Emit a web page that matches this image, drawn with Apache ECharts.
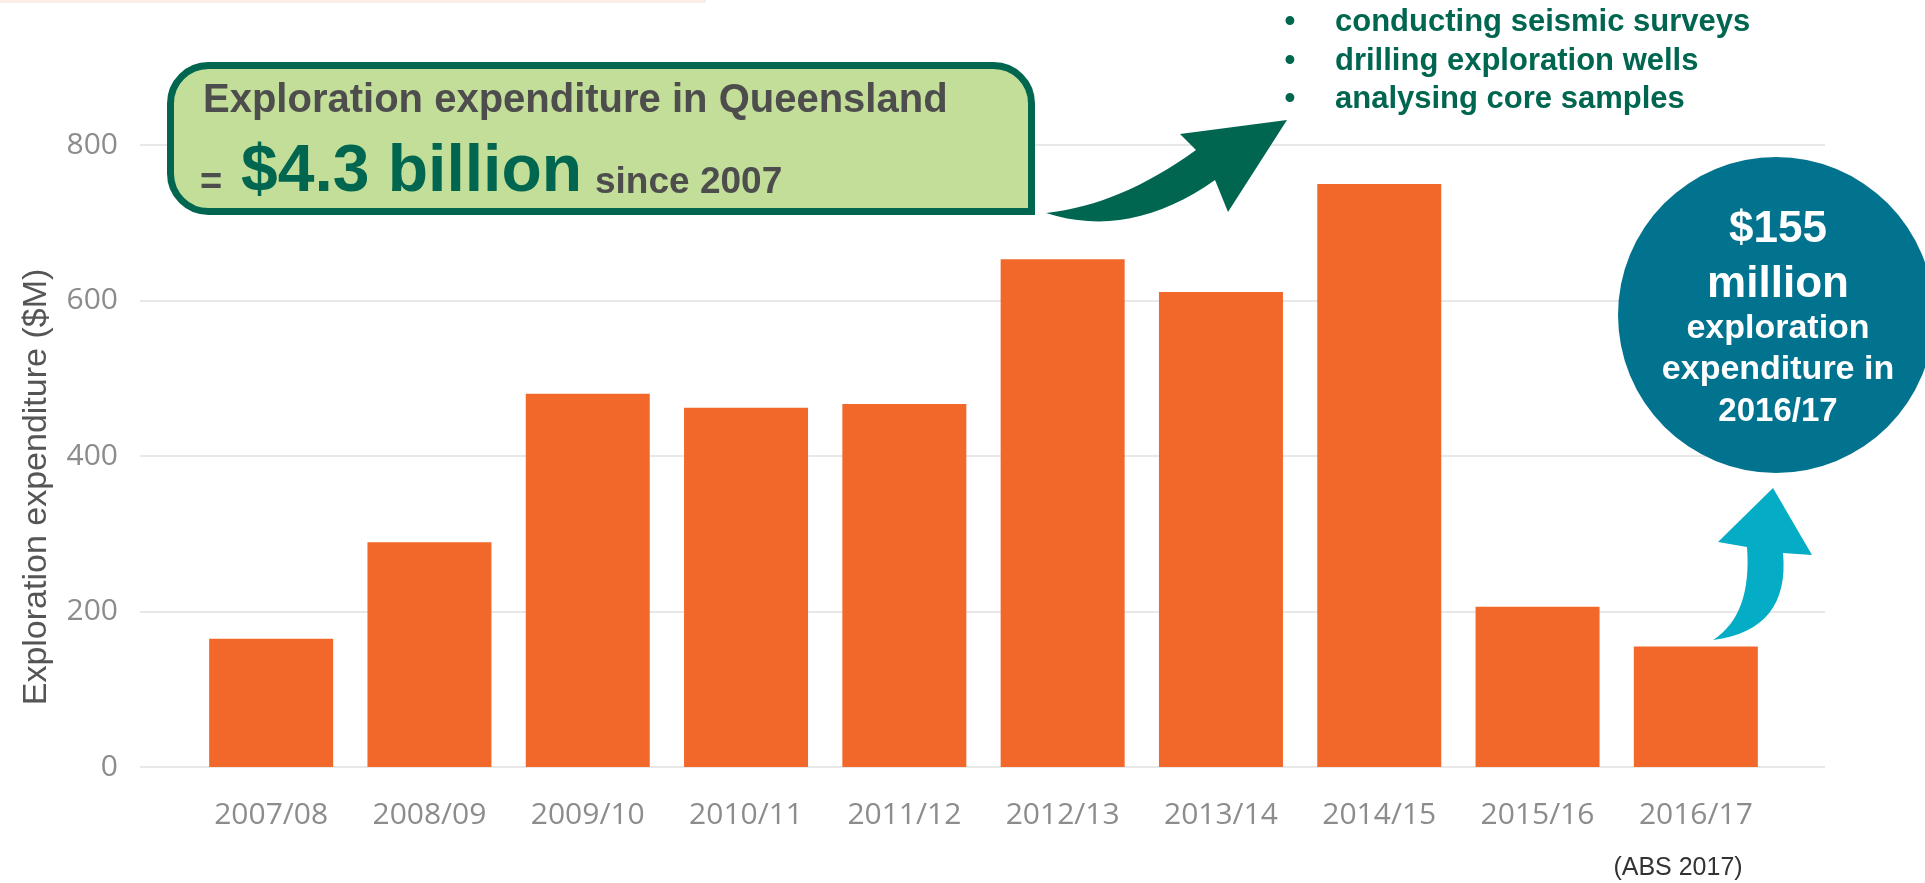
<!DOCTYPE html>
<html>
<head>
<meta charset="utf-8">
<script src="https://cdn.jsdelivr.net/npm/echarts@6/dist/echarts.min.js"></script>
<style>
html,body{margin:0;padding:0;background:#fff;}
#chart{width:1925px;height:883px;}
</style>
</head>
<body>
<div id="chart"></div>
<script>
const categories = ['2007/08','2008/09','2009/10','2010/11','2011/12','2012/13','2013/14','2014/15','2015/16','2016/17'];
const expenditure = [165, 289, 480, 462, 467, 653, 611, 750, 206, 155];
const yMin = 0, yMax = 800, yStep = 200;
const axisTitle = 'Exploration expenditure ($M)';
const boxTitle = 'Exploration expenditure in Queensland';
const boxEquals = '=';
const boxValue = '$4.3 billion';
const boxSince = 'since 2007';
const bullets = ['conducting seismic surveys','drilling exploration wells','analysing core samples'];
const circleLines = ['$155','million','exploration','expenditure in','2016/17'];
const source = '(ABS 2017)';

function quad(p0, c, p1, n) {
  const pts = [];
  for (let i = 0; i <= n; i++) {
    const t = i / n, u = 1 - t;
    pts.push([u*u*p0[0] + 2*u*t*c[0] + t*t*p1[0], u*u*p0[1] + 2*u*t*c[1] + t*t*p1[1]]);
  }
  return pts;
}

const SANS = '"Liberation Sans", Arial, Helvetica, sans-serif';
const DARKGREEN = '#006650';

// green curved arrow
const gTail = [1046, 213], gUpJ = [1196, 150], gLeft = [1180, 134], gTip = [1287, 120], gBot = [1228, 212], gLowJ = [1215, 180];
const greenArrow = [].concat(quad(gTail, [1120, 205], gUpJ, 16), [gLeft, gTip, gBot], quad(gLowJ, [1130, 240], gTail, 16));

// teal curved arrow
const tTip = [1773, 488], tRight = [1812, 555], tRJ = [1783, 553], tTail = [1713, 640], tLJ = [1747, 547], tLeft = [1718, 542];
const tealArrow = [].concat([tTip, tRight], quad(tRJ, [1790, 630], tTail, 16), quad(tTail, [1752, 615], tLJ, 16).slice(1), [tLeft]);

const graphics = [
  {type:'rect', z:50, shape:{x:0, y:0, width:706, height:3}, style:{fill:'#fbeee8'}},
  {type:'text', z:60, x:37, y:487, rotation:Math.PI/2,
    style:{text:axisTitle, font:'34px ' + SANS, fill:'#555', align:'center', verticalAlign:'middle'}},
  {type:'rect', z:100, shape:{x:170.5, y:65.5, width:861, height:146, r:[38,38,0,38]},
    style:{fill:'#c3de98', stroke:DARKGREEN, lineWidth:7}},
  {type:'text', z:101, x:203, y:101,
    style:{text:boxTitle, font:'bold 40px ' + SANS, fill:'#4d4d4d', align:'left', verticalAlign:'middle'}},
  {type:'text', z:101, x:200, y:184,
    style:{text:boxEquals, font:'bold 38px ' + SANS, fill:'#4d4d4d', align:'left', verticalAlign:'middle'}},
  {type:'text', z:101, x:241, y:173,
    style:{text:boxValue, font:'bold 66px ' + SANS, fill:DARKGREEN, align:'left', verticalAlign:'middle'}},
  {type:'text', z:101, x:595, y:183,
    style:{text:boxSince, font:'bold 37px ' + SANS, fill:'#4d4d4d', align:'left', verticalAlign:'middle'}},
  {type:'polygon', z:100, shape:{points:greenArrow}, style:{fill:DARKGREEN}},
  {type:'polygon', z:100, shape:{points:tealArrow}, style:{fill:'#04adc5'}},
  {type:'circle', z:100, shape:{cx:1776, cy:315, r:158}, style:{fill:'#02738f'}},
  {type:'text', z:101, x:1678, y:868,
    style:{text:source, font:'25px ' + SANS, fill:'#333', align:'center', verticalAlign:'middle'}}
];
const bulletBase = [22, 61, 99];
bullets.forEach((b, i) => {
  graphics.push({type:'text', z:101, x:1290, y:bulletBase[i],
    style:{text:'\u2022', font:'bold 31px ' + SANS, fill:DARKGREEN, align:'center', verticalAlign:'middle'}});
  graphics.push({type:'text', z:101, x:1335, y:bulletBase[i],
    style:{text:b, font:'bold 31px ' + SANS, fill:DARKGREEN, align:'left', verticalAlign:'middle'}});
});
const circleY = [230, 285, 329, 370, 412];
const circleSize = [44, 44, 34, 34, 33];
circleLines.forEach((t, i) => {
  graphics.push({type:'text', z:101, x:1778, y:circleY[i],
    style:{text:t, font:'bold ' + circleSize[i] + 'px ' + SANS, fill:'#ffffff', align:'center', verticalAlign:'middle'}});
});

const chart = echarts.init(document.getElementById('chart'), null, {renderer:'canvas'});
chart.setOption({
  animation:false,
  backgroundColor:'#ffffff',
  grid:[
    {left:140, right:100, top:145, bottom:116},
    {left:192, right:150, top:145, bottom:116}
  ],
  xAxis:[
    {gridIndex:0, type:'category', data:[''], show:false},
    {gridIndex:1, type:'category', data:categories,
      axisLine:{show:false}, axisTick:{show:false},
      axisLabel:{margin:33, fontSize:30, fontFamily:'"Open Sans", sans-serif', color:'#8c8c8c'}}
  ],
  yAxis:[
    {gridIndex:0, type:'value', min:yMin, max:yMax, interval:yStep,
      axisLine:{show:false}, axisTick:{show:false},
      axisLabel:{margin:22, fontSize:30, fontFamily:'"Open Sans", sans-serif', color:'#8c8c8c'},
      splitLine:{lineStyle:{color:'#e8e8e8', width:2}}},
    {gridIndex:1, type:'value', min:yMin, max:yMax, interval:yStep, show:false}
  ],
  series:[{
    type:'bar', xAxisIndex:1, yAxisIndex:1, data:expenditure,
    barWidth:124, itemStyle:{color:'#f1682a'}
  }],
  graphic:graphics
});
</script>
</body>
</html>
